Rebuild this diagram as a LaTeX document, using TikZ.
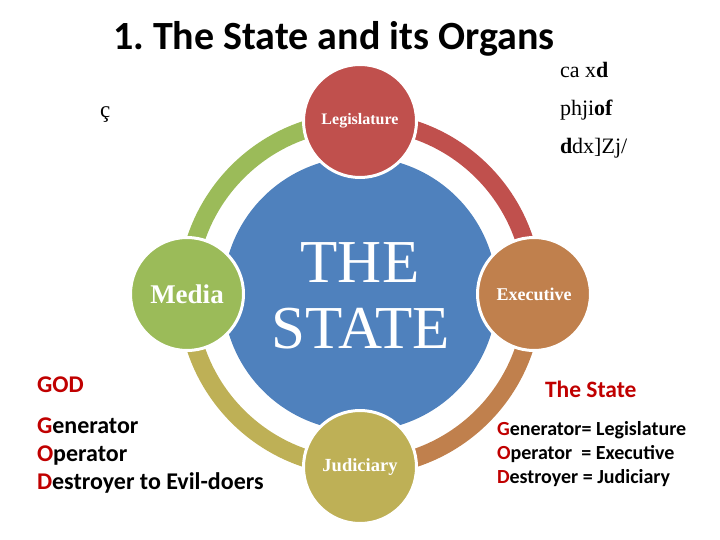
\documentclass[tikz,border=0pt]{standalone}
\usepackage{fontspec}
\setmainfont{Liberation Serif}
\newfontfamily\carl{Carlito}
\definecolor{stblue}{HTML}{4F81BD}
\definecolor{stred}{HTML}{C0504D}
\definecolor{stgreen}{HTML}{9BBB59}
\definecolor{storange}{HTML}{C0804D}
\definecolor{stolive}{HTML}{BEB056}
\definecolor{godred}{HTML}{C00000}
\tikzset{
  ringarc/.style={line width=18pt},
  organ/.style={circle, minimum size=113pt, draw=white, line width=3pt, text=white, font=\bfseries},
  bigtext/.style={anchor=base, text=white, font=\fontsize{61}{66}\selectfont},
  sidetext/.style={anchor=base west, font=\carl\bfseries\fontsize{24}{28}\selectfont},
  rtext/.style={anchor=base west, font=\carl\bfseries\fontsize{20}{24}\selectfont},
  garb/.style={anchor=base west, font=\fontsize{22}{26}\selectfont}
}
\frenchspacing
\begin{document}
\begin{tikzpicture}[x=1pt,y=-1pt, every node/.style={inner sep=0pt, outer sep=0pt}]
\useasboundingbox (0,0) rectangle (720,540);
\coordinate (c) at (360,294);
% ring arcs
\draw[ringarc, stgreen] ([shift={(180:173)}]c) arc[start angle=180, end angle=270, radius=173];
\draw[ringarc, stred] ([shift={(270:173)}]c) arc[start angle=270, end angle=360, radius=173];
\draw[ringarc, storange] ([shift={(0:173)}]c) arc[start angle=0, end angle=90, radius=173];
\draw[ringarc, stolive] ([shift={(90:173)}]c) arc[start angle=90, end angle=180, radius=173];
% central circle
\node[circle, fill=stblue, minimum size=274pt] (state) at (c) {};
\node[bigtext] (the) at (360,282) {THE};
\node[bigtext] (statew) at (361,348) {STATE};
% organs
\node[organ, fill=stred, font=\bfseries\fontsize{16}{18}\selectfont] (leg) at (360,121) {Legislature};
\node[organ, fill=stgreen, font=\bfseries\fontsize{27}{30}\selectfont] (media) at (187,294) {Media};
\node[organ, fill=storange, font=\bfseries\fontsize{18}{20}\selectfont] (exec) at (534,294) {Executive};
\node[organ, fill=stolive, font=\bfseries\fontsize{18.5}{20}\selectfont] (jud) at (360,467) {Judiciary};
% title
\node[anchor=base west, font=\carl\bfseries\fontsize{40}{46}\selectfont] (title) at (113,50) {1. The State and its Organs};
% stray glyph
\node[anchor=base west, font=\fontsize{23}{26}\selectfont] (cc) at (100,118) {ç};
% garbled top-right text
\node[garb] (g1) at (560,78) {ca x\textbf{d}};
\node[garb] (g2) at (560,116) {phji\textbf{of}};
\node[garb] (g3) at (560,154) {\textbf{d}dx]Zj/};
% left text
\node[sidetext, text=godred] (god) at (37,392) {GOD};
\node[sidetext] (l1) at (37,433) {\textcolor{godred}{G}enerator};
\node[sidetext] (l2) at (37,461) {\textcolor{godred}{O}perator};
\node[sidetext] (l3) at (37,489) {\textcolor{godred}{D}estroyer to Evil-doers};
% right text
\node[anchor=base west, text=godred, font=\carl\bfseries\fontsize{23.5}{28}\selectfont] (ts) at (545,397) {The State};
\node[rtext] (r1) at (497,435) {\textcolor{godred}{G}enerator= Legislature};
\node[rtext] (r2) at (497,459) {\textcolor{godred}{O}perator\ \ = Executive};
\node[rtext] (r3) at (497,483) {\textcolor{godred}{D}estroyer = Judiciary};
\end{tikzpicture}
\end{document}
